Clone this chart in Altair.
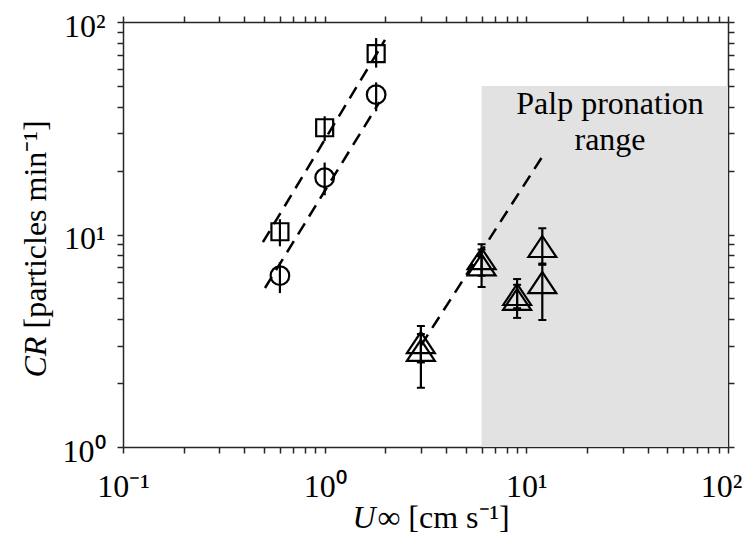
import altair as alt
import pandas as pd

# ---------------- data ----------------
sq_x = [0.6, 1.0, 1.8]
sq_y = [10.3, 31.8, 71.0]
sq_lo = [8.8, 27.5, 61.0]
sq_hi = [11.8, 36.0, 84.0]

ci_x = [0.6, 1.0, 1.8]
ci_y = [6.4, 18.5, 45.5]
ci_lo = [5.3, 15.3, 38.0]
ci_hi = [7.4, 21.8, 52.0]

tri_x = [3.0, 6.0, 9.0, 12.0]
triA_y = [3.1, 7.7, 5.22, 8.78]
triA_lo = [2.5, 6.4, 4.5, 7.2]
triA_hi = [3.71, 9.0, 6.17, 10.7]
triB_y = [2.85, 7.2, 4.95, 5.94]
triB_lo = [1.9, 5.66, 4.05, 3.96]
triB_hi = [3.4, 8.5, 5.8, 7.3]

fit_sq_x = [0.494, 1.99]
fit_sq_y = [9.2, 82.3]
fit_ci_x = [0.506, 1.87]
fit_ci_y = [5.6, 42.0]
fit_tri_x = [3.0, 12.4]
fit_tri_y = [3.0, 24.4]

shade_x = [6.0, 100.0]
shade_y = [1.0, 50.0]

note_text = ["Palp pronation", "range"]
note_x = [26.0, 26.0]
note_y = [36.9, 25.0]

x_ticks = [round(m * 10 ** e, 6) for e in (-1, 0, 1) for m in range(1, 10)] + [100.0]
y_ticks = [round(m * 10 ** e, 6) for e in (0, 1) for m in range(1, 10)] + [100.0]
x_labels = {0.1: "10⁻¹", 1: "10⁰", 10: "10¹", 100: "10²"}
y_labels = {1: "10⁰", 10: "10¹", 100: "10²"}

# ---------------- tables ----------------
sq = pd.DataFrame({"x": sq_x, "y": sq_y, "lo": sq_lo, "hi": sq_hi})
ci = pd.DataFrame({"x": ci_x, "y": ci_y, "lo": ci_lo, "hi": ci_hi})
triA = pd.DataFrame({"x": tri_x, "y": triA_y, "lo": triA_lo, "hi": triA_hi})
triB = pd.DataFrame({"x": tri_x, "y": triB_y, "lo": triB_lo, "hi": triB_hi})
tri = pd.concat([triA, triB], ignore_index=True)
err = pd.concat([sq, ci, tri], ignore_index=True)
caps = pd.DataFrame({"x": list(tri["x"]) * 2, "y": list(tri["lo"]) + list(tri["hi"])})
fits = pd.DataFrame({
    "x": fit_sq_x + fit_ci_x + fit_tri_x,
    "y": fit_sq_y + fit_ci_y + fit_tri_y,
    "g": ["sq"] * 2 + ["ci"] * 2 + ["tri"] * 2,
})
shade = pd.DataFrame({"x1": [shade_x[0]], "x2": [shade_x[1]], "y1": [shade_y[0]], "y2": [shade_y[1]]})
notes = pd.DataFrame({"t": note_text, "x": note_x, "y": note_y})

FONT = "Liberation Serif"
INK = "#262626"
xs = alt.Scale(type="log", domain=[0.1, 100], nice=False)
ys = alt.Scale(type="log", domain=[1, 100], nice=False)


def lab_expr(d):
    parts = " : ".join(f"datum.value == {k} ? '{v}'" for k, v in d.items())
    return parts + " : ''"


common = dict(grid=False, tickSize=6, tickWidth=1.5, tickColor=INK,
              domainColor=INK, domainWidth=1.5)
title_style = dict(titleFont=FONT, titleFontSize=32, titleFontWeight="normal",
                   titleColor="black")
bare = dict(grid=False, labels=False, ticks=False, domain=False)

x_bottom = alt.Axis(orient="bottom", values=x_ticks, labelExpr=lab_expr(x_labels),
                    labelFont=FONT, labelFontSize=32, labelColor="black",
                    labelBaseline="alphabetic", labelPadding=43,
                    labelOffset={"condition": {"test": "datum.value == 100", "value": -7},
                                 "value": 0},
                    labelFlush=False, labelOverlap=False,
                    title="∞ [cm s⁻¹]", titleX=254, titleY=80, titleAlign="left",
                    titleBaseline="alphabetic", **title_style, **common)
y_left = alt.Axis(orient="left", values=y_ticks, labelExpr=lab_expr(y_labels),
                  labelFont=FONT, labelFontSize=32, labelColor="black",
                  labelBaseline="middle", labelPadding=12, labelOffset=4,
                  labelFlush=False, labelOverlap=False,
                  title="[particles min⁻¹]", titleAngle=270, titleX=-88, titleY=306,
                  titleAlign="left", titleBaseline="middle", **title_style, **common)
x_top = alt.Axis(orient="top", values=x_ticks, labels=False, title="", **common)
y_right = alt.Axis(orient="right", values=y_ticks, labels=False, title="", **common)
x_italic = alt.Axis(orient="bottom", title="U", titleFontStyle="italic", titleX=229,
                    titleY=80, titleAlign="left", titleBaseline="alphabetic",
                    **title_style, **bare)
y_italic = alt.Axis(orient="left", title="CR", titleFontStyle="italic", titleAngle=270,
                    titleX=-88, titleY=355, titleAlign="left", titleBaseline="middle",
                    **title_style, **bare)

rect = alt.Chart(shade).mark_rect(color="#e2e2e2").encode(
    x=alt.X("x1:Q", scale=xs, axis=x_bottom),
    x2="x2:Q",
    y=alt.Y("y1:Q", scale=ys, axis=y_left),
    y2="y2:Q",
)

lines = alt.Chart(fits).mark_line(color="black", strokeWidth=2.5, strokeDash=[13, 8]).encode(
    x=alt.X("x:Q", scale=xs, axis=None),
    y=alt.Y("y:Q", scale=ys, axis=None),
    detail="g:N",
)

rules = alt.Chart(err).mark_rule(color="black", strokeWidth=2.2).encode(
    x=alt.X("x:Q", scale=xs, axis=None),
    y=alt.Y("lo:Q", scale=ys, axis=None),
    y2="hi:Q",
)

cap_marks = alt.Chart(caps).mark_tick(orient="horizontal", color="black", size=8,
                                      thickness=2, opacity=1).encode(
    x=alt.X("x:Q", scale=xs, axis=None),
    y=alt.Y("y:Q", scale=ys, axis=None),
)

squares = alt.Chart(sq).mark_point(shape="square", size=289, filled=False, color="black",
                                   strokeWidth=2.2, opacity=1).encode(
    x=alt.X("x:Q", scale=xs, axis=x_top),
    y=alt.Y("y:Q", scale=ys, axis=y_right),
)

circles = alt.Chart(ci).mark_point(shape="circle", size=346, filled=False, color="black",
                                   strokeWidth=2.2, opacity=1).encode(
    x=alt.X("x:Q", scale=xs, axis=x_italic),
    y=alt.Y("y:Q", scale=ys, axis=y_italic),
)

triangles = alt.Chart(tri).mark_point(shape="M-1,0.75L0,-0.75L1,0.75Z", size=784,
                                      filled=False, color="black", strokeWidth=2.2,
                                      opacity=1).encode(
    x=alt.X("x:Q", scale=xs, axis=None),
    y=alt.Y("y:Q", scale=ys, axis=None),
)

text = alt.Chart(notes).mark_text(font=FONT, fontSize=32, align="center",
                                  baseline="alphabetic", color="black").encode(
    x=alt.X("x:Q", scale=xs, axis=None),
    y=alt.Y("y:Q", scale=ys, axis=None),
    text="t:N",
)

chart = alt.layer(rect, lines, rules, cap_marks, squares, circles, triangles, text).resolve_axis(
    x="independent", y="independent"
).properties(
    width=605, height=425,
    autosize=alt.AutoSizeParams(type="none"),
    padding={"left": 115, "top": 14, "right": 14, "bottom": 93},
    background="white",
).configure_view(strokeWidth=0)

chart.save("out.html", embed_options={"renderer": "svg", "actions": False})
